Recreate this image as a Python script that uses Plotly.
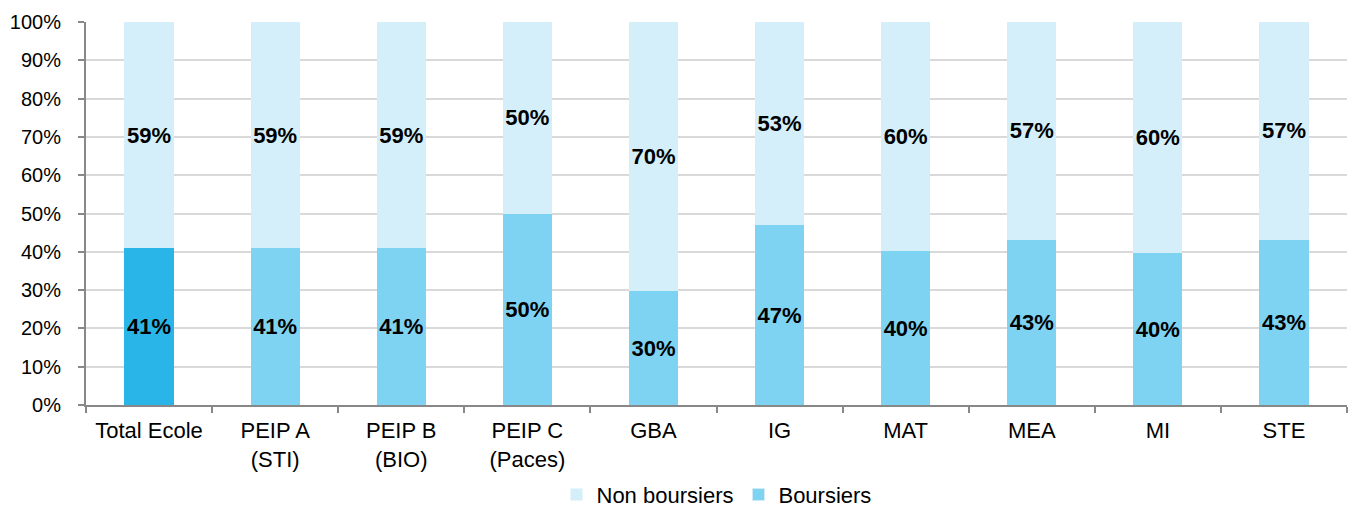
import plotly.graph_objects as go

# Share of scholarship holders by programme (%)
categories = ['Total Ecole', 'PEIP A<br>(STI)', 'PEIP B<br>(BIO)', 'PEIP C<br>(Paces)',
              'GBA', 'IG', 'MAT', 'MEA', 'MI', 'STE']
boursiers = [40.9, 40.9, 40.9, 50.0, 29.7, 46.9, 40.1, 43.2, 39.6, 43.2]
non_boursiers = [59.1, 59.1, 59.1, 50.0, 70.3, 53.1, 59.9, 56.8, 60.4, 56.8]

bours_colors = ['#29b5e8'] + ['#7fd3f2'] * (len(categories) - 1)

label_font = dict(family='Liberation Sans, Arial', size=22, color='black', weight='bold')

fig = go.Figure()
fig.add_trace(go.Bar(
    x=categories, y=boursiers, name='Boursiers',
    marker=dict(color=bours_colors, line=dict(width=0)),
    text=[f'{round(v)}%' for v in boursiers], textposition='inside',
    insidetextanchor='middle', textfont=label_font, textangle=0,
    constraintext='none', showlegend=False,
))
fig.add_trace(go.Bar(
    x=categories, y=non_boursiers, name='Non boursiers',
    marker=dict(color='#d4eff9', line=dict(width=0)),
    text=[f'{round(v)}%' for v in non_boursiers], textposition='inside',
    insidetextanchor='middle', textfont=label_font, textangle=0,
    constraintext='none',
))
# legend-only entry for Boursiers so it appears after Non boursiers
fig.add_trace(go.Bar(x=[None], y=[None], name='Boursiers',
                     marker=dict(color='#7fd3f2')))

# figure is a bit taller than the window so the legend box fits without
# pushing the bottom margin; the extra strip falls below the viewport
fig.update_layout(
    barmode='stack', bargap=0.61,
    width=1351, height=518,
    margin=dict(l=86, r=4, t=22, b=112),
    plot_bgcolor='white', paper_bgcolor='white',
    font=dict(family='Liberation Sans, Arial', size=20, color='black'),
    uniformtext=dict(mode=False),
    legend=dict(orientation='h', x=0.5, xanchor='center', y=-0.286, yanchor='bottom',
                font=dict(size=22), traceorder='normal', itemwidth=30),
)
fig.update_xaxes(
    automargin=False,
    showline=True, linecolor='#888888', linewidth=2,
    ticks='outside', tickson='boundaries', ticklen=6, tickcolor='#888888', tickwidth=2,
    tickfont=dict(size=22), ticklabelstandoff=5,
)
fig.update_yaxes(
    automargin=False,
    range=[0, 100], dtick=10, ticksuffix='%',
    showline=True, linecolor='#888888', linewidth=2,
    ticks='outside', ticklen=6, tickcolor='#888888', tickwidth=2,
    showgrid=True, gridcolor='#d9d9d9', gridwidth=2, zeroline=False,
    tickfont=dict(size=20), ticklabelstandoff=13,
)

# drop the default body margin so the figure sits at the page origin
fig.write_html('out.html', config={'displayModeBar': False},
               post_script="document.body.style.margin='0';")
